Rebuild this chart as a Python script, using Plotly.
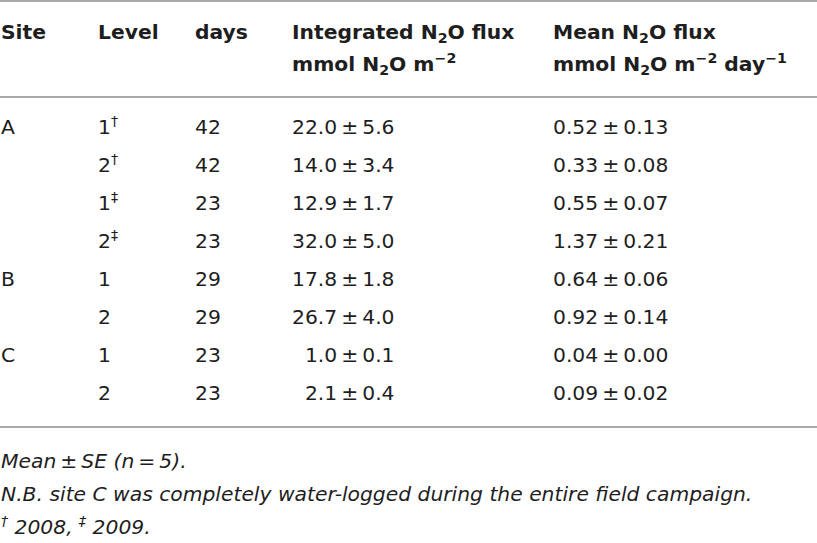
import plotly.graph_objects as go

# table content
header_top = ["Site", "Level", "days", "Integrated N<sub>2</sub>O flux", "Mean N<sub>2</sub>O flux"]
header_bottom = ["", "", "", "mmol N<sub>2</sub>O m<sup>\u22122</sup>",
                 "mmol N<sub>2</sub>O m<sup>\u22122</sup> day<sup>\u22121</sup>"]

sites = ["A", "", "", "", "B", "", "C", ""]
levels = ["1", "2", "1", "2", "1", "2", "1", "2"]
level_marks = ["\u2020", "\u2020", "\u2021", "\u2021", "", "", "", ""]
days = [42, 42, 23, 23, 29, 29, 23, 23]
integrated_mean = [22.0, 14.0, 12.9, 32.0, 17.8, 26.7, 1.0, 2.1]
integrated_se = [5.6, 3.4, 1.7, 5.0, 1.8, 4.0, 0.1, 0.4]
flux_mean = [0.52, 0.33, 0.55, 1.37, 0.64, 0.92, 0.04, 0.09]
flux_se = [0.13, 0.08, 0.07, 0.21, 0.06, 0.14, 0.00, 0.02]

footnotes = [
    "Mean\u2009\u00b1\u2009SE (n\u2009=\u20095).",
    "N.B. site C was completely water-logged during the entire field campaign.",
    "<sup>\u2020</sup> 2008, <sup>\u2021</sup> 2009.",
]

# layout (pixel units of the 817x543 page)
W, H = 817, 543
col_x = [1, 98, 195, 292, 553]
header_y = [34, 66]
first_row_y = 129
row_step = 38
rule_y = [1, 97, 427]
foot_y0 = 463
foot_step = 33

FONT = "DejaVu Sans"
FSIZE = 20.3
INK = "#1e1e1e"
PM = "\u2009\u00b1\u2009"


def fmt_integrated(m, s):
    pad = "\u2007" if m < 10 else ""
    return f"{pad}{m:.1f}{PM}{s:.1f}"


def text_trace(xs, ys, texts):
    # drop empty cells so nothing is drawn with no size
    keep = [(x, y, t) for x, y, t in zip(xs, ys, texts) if t]
    return go.Scatter(
        x=[k[0] for k in keep], y=[k[1] for k in keep], text=[k[2] for k in keep],
        mode="text", textposition="middle right",
        textfont=dict(family=FONT, size=FSIZE, color=INK),
        hoverinfo="skip", showlegend=False,
    )


columns = [
    sites,
    [f"{lv}<sup>{mk}</sup>" if mk else lv for lv, mk in zip(levels, level_marks)],
    [str(d) for d in days],
    [fmt_integrated(m, s) for m, s in zip(integrated_mean, integrated_se)],
    [f"{m:.2f}{PM}{s:.2f}" for m, s in zip(flux_mean, flux_se)],
]

row_y = [first_row_y + i * row_step for i in range(len(sites))]

fig = go.Figure()

# header, two lines
for line_y, labels in zip(header_y, [header_top, header_bottom]):
    fig.add_trace(text_trace(col_x, [line_y] * len(labels),
                             [f"<b>{t}</b>" if t else "" for t in labels]))

# body, one trace per column
for cx, vals in zip(col_x, columns):
    fig.add_trace(text_trace([cx] * len(vals), row_y, vals))

# footnotes
fig.add_trace(text_trace([1] * len(footnotes),
                         [foot_y0 + i * foot_step for i in range(len(footnotes))],
                         [f"<i>{t}</i>" for t in footnotes]))

# horizontal rules
for ry in rule_y:
    fig.add_shape(type="line", xref="x", yref="y", x0=0, x1=W, y0=ry, y1=ry,
                  line=dict(color="#a9a9a9", width=2))

fig.update_xaxes(range=[0, W], visible=False, fixedrange=True)
fig.update_yaxes(range=[H, 0], visible=False, fixedrange=True)
fig.update_layout(
    width=W, height=H,
    margin=dict(l=0, r=0, t=0, b=0),
    paper_bgcolor="white", plot_bgcolor="white",
)

# page body has a default 8px margin; remove it so the figure sits at the corner
fig.write_html("out.html", config={"displayModeBar": False},
               post_script="document.body.style.margin='0';")
